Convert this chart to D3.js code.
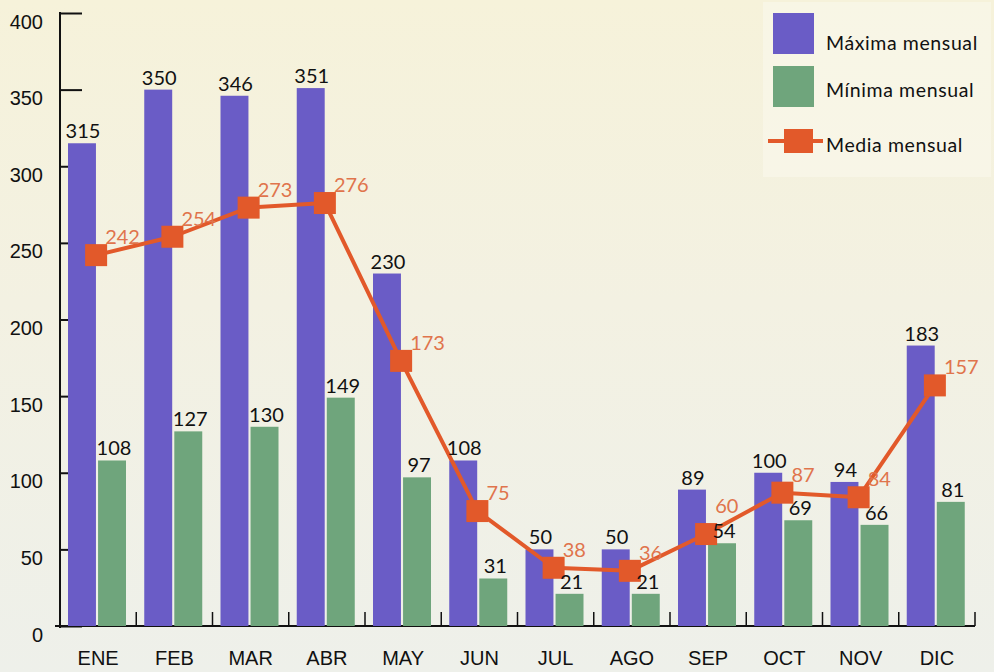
<!DOCTYPE html>
<html>
<head>
<meta charset="utf-8">
<script src="https://cdn.jsdelivr.net/npm/d3@7"></script>
<style>
  html, body { margin: 0; padding: 0; }
  svg { display: block; font-family: Lato, "Open Sans", sans-serif; }
  .tick-label { font-size: 20px; fill: #111; }
  .month-label { font-size: 20px; fill: #111; }
  .value { font-size: 20px; fill: #111; }
  .media-value { font-size: 20px; fill: #e0744c; }
  .legend-text { font-size: 19.5px; fill: #111; letter-spacing: 0.6px; }
</style>
</head>
<body>
<svg id="chart" width="994" height="672"></svg>
<script>
const months = ['ENE', 'FEB', 'MAR', 'ABR', 'MAY', 'JUN', 'JUL', 'AGO', 'SEP', 'OCT', 'NOV', 'DIC']
const maxima = [315, 350, 346, 351, 230, 108, 50, 50, 89, 100, 94, 183]
const minima = [108, 127, 130, 149, 97, 31, 21, 21, 54, 69, 66, 81]
const media = [242, 254, 273, 276, 173, 75, 38, 36, 60, 87, 84, 157]
const yTicks = [0, 50, 100, 150, 200, 250, 300, 350, 400]
const series = ['Máxima mensual', 'Mínima mensual', 'Media mensual']

const width = 994
    , height = 672
    , plotLeft = 60
    , plotRight = 975
    , plotTop = 13
    , plotBottom = 626
    , purple = '#6a5cc6'
    , green = '#6fa57c'
    , orange = '#e2592a'
    , x = d3.scaleBand().domain(months).range([plotLeft, plotRight])
    , sub = d3.scaleBand().domain(['max', 'min']).range([8, 66]).paddingInner(0.07)
    , y = d3.scaleLinear().domain([0, 400]).range([plotBottom, plotTop])
    , cx = m => x(m) + x.bandwidth() / 2 - 2

const svg = d3.select('#chart')

// paper-ish background
const defs = svg.append('defs')
const grad = defs.append('linearGradient')
    .attr('id', 'bg').attr('x1', 0).attr('y1', 0).attr('x2', 0).attr('y2', 1)
grad.append('stop').attr('offset', '0%').attr('stop-color', '#f6f2da')
grad.append('stop').attr('offset', '45%').attr('stop-color', '#f3f1e2')
grad.append('stop').attr('offset', '100%').attr('stop-color', '#eef0ea')
svg.append('rect').attr('width', width).attr('height', height).attr('fill', 'url(#bg)')
svg.append('rect')
    .attr('x', 763).attr('y', 2).attr('width', 228).attr('height', 175)
    .attr('fill', '#faf8ec').attr('opacity', 0.6)

// y axis
const yAxis = svg.append('g')
    .attr('transform', `translate(${plotLeft},0)`)
    .call(d3.axisLeft(y).tickValues(yTicks).tickSizeInner(-22).tickSizeOuter(0).tickPadding(17))
yAxis.select('.domain').remove()
yAxis.selectAll('.tick line').attr('stroke', '#111').attr('stroke-width', 2)
yAxis.selectAll('.tick text')
    .attr('class', 'tick-label')
    .attr('font-family', null).attr('font-size', null)
    .attr('dy', '0.75em')
svg.append('line')
    .attr('x1', plotLeft).attr('x2', plotLeft)
    .attr('y1', plotTop - 1).attr('y2', plotBottom + 2)
    .attr('stroke', '#111').attr('stroke-width', 2)

// x axis
svg.append('line')
    .attr('x1', plotLeft - 5).attr('x2', plotRight)
    .attr('y1', plotBottom).attr('y2', plotBottom)
    .attr('stroke', '#111').attr('stroke-width', 2)
svg.selectAll('line.cat-tick')
    .data(months)
    .join('line')
    .attr('class', 'cat-tick')
    .attr('x1', d => x(d) + x.bandwidth())
    .attr('x2', d => x(d) + x.bandwidth())
    .attr('y1', plotBottom)
    .attr('y2', plotBottom - 14)
    .attr('stroke', '#111').attr('stroke-width', 1.5)
const xAxis = svg.append('g')
    .attr('transform', `translate(0,${plotBottom})`)
    .call(d3.axisBottom(x).tickSize(0).tickPadding(25))
xAxis.select('.domain').remove()
xAxis.selectAll('.tick text')
    .attr('class', 'month-label')
    .attr('font-family', null).attr('font-size', null)

// bars
const rows = months.map((m, i) => ({ m, max: maxima[i], min: minima[i], media: media[i] }))
const groups = svg.selectAll('g.month')
    .data(rows)
    .join('g')
    .attr('class', 'month')
    .attr('transform', d => `translate(${x(d.m)},0)`)
groups.append('rect')
    .attr('x', sub('max')).attr('width', sub.bandwidth())
    .attr('y', d => y(d.max)).attr('height', d => y(0) - y(d.max))
    .attr('fill', purple)
groups.append('rect')
    .attr('x', sub('min')).attr('width', sub.bandwidth())
    .attr('y', d => y(d.min)).attr('height', d => y(0) - y(d.min))
    .attr('fill', green)

// media line
const line = d3.line().x(d => cx(d.m)).y(d => y(d.media))
svg.append('path')
    .datum(rows)
    .attr('d', line)
    .attr('fill', 'none')
    .attr('stroke', orange)
    .attr('stroke-width', 4)
    .attr('stroke-linejoin', 'round')
svg.selectAll('rect.media-point')
    .data(rows)
    .join('rect')
    .attr('class', 'media-point')
    .attr('x', d => cx(d.m) - 11)
    .attr('y', d => y(d.media) - 11)
    .attr('width', 22).attr('height', 22)
    .attr('fill', orange)

// value labels on top of everything
const labels = svg.append('g')
labels.selectAll('text.max-value')
    .data(rows)
    .join('text')
    .attr('class', 'value max-value')
    .attr('text-anchor', 'middle')
    .attr('x', d => x(d.m) + sub('max') + sub.bandwidth() / 2 + 1)
    .attr('y', d => y(d.max) - 5)
    .text(d => d.max)
const minLabels = labels.selectAll('text.min-value')
    .data(rows)
    .join('text')
    .attr('class', 'value min-value')
    .attr('text-anchor', 'middle')
    .attr('x', d => x(d.m) + sub('min') + sub.bandwidth() / 2 + 2)
    .attr('y', d => y(d.min) - 5)
    .text(d => d.min)
const mediaLabels = labels.selectAll('text.media-value')
    .data(rows)
    .join('text')
    .attr('class', 'media-value')
    .attr('x', d => cx(d.m) + 9)
    .attr('y', d => y(d.media) - 11)
    .text(d => d.media)

// nudge a media label upward if it runs into the minimum label of its month
const minNodes = minLabels.nodes()
mediaLabels.each(function (d, i) {
    const a = this.getBBox()
    const b = minNodes[i].getBBox()
    const overlapX = a.x < b.x + b.width && b.x < a.x + a.width
    const overlapY = a.y < b.y + b.height && b.y < a.y + a.height
    if (overlapX && overlapY) {
        d3.select(this).attr('y', +d3.select(this).attr('y') - (a.y + a.height - b.y) - 1)
    }
})

// legend
const legend = svg.append('g')
legend.append('rect').attr('x', 773).attr('y', 13).attr('width', 41).attr('height', 41).attr('fill', purple)
legend.append('rect').attr('x', 773).attr('y', 66).attr('width', 41).attr('height', 41).attr('fill', green)
legend.append('line')
    .attr('x1', 768).attr('x2', 823).attr('y1', 141).attr('y2', 141)
    .attr('stroke', orange).attr('stroke-width', 4)
legend.append('rect').attr('x', 784).attr('y', 129).attr('width', 29).attr('height', 24).attr('fill', orange)
legend.selectAll('text.legend-text')
    .data(series)
    .join('text')
    .attr('class', 'legend-text')
    .attr('x', 826)
    .attr('y', (d, i) => [50, 97, 152][i])
    .text(d => d)
</script>
</body>
</html>
